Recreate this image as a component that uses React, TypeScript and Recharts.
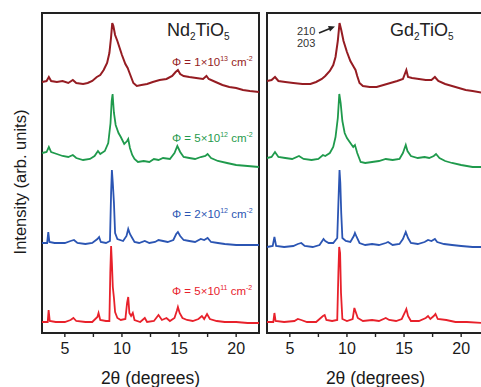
import React from "react";
import {
  LineChart,
  Line,
  XAxis,
  YAxis,
  ReferenceArea,
  Customized,
} from "recharts";

// x = 2θ (degrees), y = intensity (arb. units, stacked with offsets)
const TICKS = [5, 7.5, 10, 12.5, 15, 17.5, 20];
const DOMAIN_X: [number, number] = [3, 22];
const DOMAIN_Y: [number, number] = [0, 320];

const FLUENCES = ["5×10", "2×10", "5×10", "1×10"];
const FLUENCE_EXP = ["11", "12", "12", "13"];

const ndTop: [number, number][] = [
  [3.0, 251], [3.4, 252], [3.6, 256], [3.8, 252], [4.3, 251], [4.8, 252], [5.3, 250], [5.7, 253],
  [6.0, 250], [6.6, 249], [7.0, 250], [7.4, 252], [7.8, 256], [8.1, 258], [8.4, 263], [8.7, 270],
  [8.9, 280], [9.05, 296], [9.15, 310], [9.25, 307], [9.4, 298], [9.6, 292], [9.8, 285], [10.0, 278],
  [10.3, 269], [10.5, 265], [10.6, 262], [10.8, 256], [11.0, 250], [11.3, 247], [11.7, 248], [12.2, 249],
  [12.7, 251], [13.3, 253], [13.9, 254], [14.4, 257], [14.7, 261], [14.9, 263], [15.1, 259], [15.4, 257],
  [15.9, 256], [16.5, 255], [17.1, 254], [17.4, 257], [17.6, 254], [18.2, 251], [18.8, 248], [19.4, 246],
  [20.0, 245], [20.6, 243], [21.2, 242], [22.0, 241],
];
const ndMid: [number, number][] = [
  [3.0, 180], [3.4, 181], [3.6, 186], [3.8, 181], [4.3, 179], [4.8, 177], [5.3, 176], [5.7, 178],
  [6.0, 175], [6.6, 173], [7.2, 174], [7.6, 177], [7.9, 182], [8.1, 179], [8.5, 182], [8.8, 190],
  [9.0, 210], [9.1, 232], [9.18, 239], [9.3, 220], [9.45, 208], [9.7, 200], [9.9, 196], [10.2, 189],
  [10.45, 192], [10.55, 194], [10.7, 185], [10.9, 178], [11.1, 174], [11.4, 171], [11.9, 172], [12.4, 171],
  [12.8, 174], [13.2, 173], [13.6, 175], [14.2, 174], [14.6, 180], [14.85, 187], [15.1, 181], [15.4, 176],
  [15.9, 175], [16.4, 174], [16.9, 176], [17.3, 177], [17.5, 179], [17.8, 175], [18.4, 172], [19.2, 170],
  [20.0, 168], [21.0, 167], [22.0, 166],
];
const ndLow: [number, number][] = [
  [3.0, 90], [3.45, 90], [3.55, 101], [3.65, 91], [4.1, 90], [5.0, 90], [5.5, 92], [5.8, 93],
  [6.1, 90], [6.8, 89], [7.4, 90], [7.85, 94], [8.0, 96], [8.15, 91], [8.6, 90], [8.95, 92],
  [9.05, 140], [9.12, 163], [9.2, 150], [9.3, 130], [9.4, 100], [9.6, 94], [10.1, 92], [10.4, 97],
  [10.55, 104], [10.7, 99], [10.9, 95], [11.1, 91], [11.5, 90], [12.0, 92], [12.4, 90], [12.9, 91],
  [13.2, 93], [13.6, 92], [14.0, 91], [14.5, 93], [14.75, 99], [14.9, 101], [15.1, 97], [15.4, 93],
  [15.9, 92], [16.4, 91], [16.9, 94], [17.2, 93], [17.5, 95], [17.8, 91], [18.4, 90], [19.0, 89],
  [20.0, 88], [21.0, 88], [22.0, 88],
];
const ndBase: [number, number][] = [
  [3.0, 11], [3.5, 11], [3.58, 23], [3.68, 12], [4.2, 11], [5.0, 11], [5.5, 13], [5.75, 15],
  [6.0, 12], [6.8, 11], [7.4, 11], [7.85, 16], [7.95, 20], [8.1, 13], [8.6, 12], [8.9, 12],
  [8.98, 60], [9.05, 87], [9.12, 70], [9.2, 46], [9.3, 35], [9.4, 21], [9.6, 15], [9.9, 13],
  [10.3, 14], [10.45, 30], [10.55, 36], [10.65, 20], [10.8, 17], [10.95, 20], [11.1, 13], [11.6, 11],
  [12.0, 15], [12.2, 11], [12.8, 12], [13.2, 18], [13.5, 13], [13.9, 15], [14.2, 12], [14.6, 15],
  [14.8, 22], [14.9, 26], [15.05, 20], [15.3, 15], [15.7, 13], [16.2, 12], [16.7, 14], [17.0, 17],
  [17.2, 14], [17.45, 19], [17.7, 14], [18.3, 12], [19.0, 11], [20.0, 11], [21.0, 10], [22.0, 10],
];

const gdTop: [number, number][] = [
  [3.0, 252], [3.4, 253], [3.7, 256], [4.0, 252], [4.6, 251], [5.3, 250], [6.1, 249], [6.8, 249],
  [7.3, 251], [7.8, 254], [8.1, 257], [8.5, 262], [8.8, 268], [9.0, 276], [9.2, 292], [9.35, 310],
  [9.5, 303], [9.7, 292], [10.0, 281], [10.3, 272], [10.6, 266], [10.75, 263], [10.9, 257], [11.1, 250],
  [11.4, 247], [12.0, 246], [12.6, 246], [13.2, 248], [13.8, 250], [14.4, 252], [14.9, 254], [15.1, 260],
  [15.2, 263], [15.35, 256], [15.7, 255], [16.3, 254], [16.9, 253], [17.4, 253], [17.7, 256], [18.0, 252],
  [18.6, 249], [19.2, 247], [19.8, 245], [20.4, 243], [21.0, 242], [22.0, 240],
];
const gdMid: [number, number][] = [
  [3.0, 175], [3.4, 176], [3.7, 181], [4.0, 176], [4.6, 175], [5.2, 174], [5.8, 177], [6.2, 174],
  [6.9, 173], [7.5, 174], [7.9, 178], [8.1, 177], [8.5, 180], [8.8, 186], [9.0, 196], [9.2, 215],
  [9.33, 239], [9.45, 230], [9.6, 212], [9.8, 200], [10.0, 195], [10.3, 190], [10.55, 186], [10.7, 188],
  [10.9, 180], [11.2, 171], [11.6, 170], [12.2, 171], [12.8, 172], [13.4, 174], [14.0, 173], [14.6, 174],
  [14.9, 180], [15.15, 188], [15.3, 182], [15.6, 177], [16.2, 175], [16.8, 176], [17.2, 175], [17.6, 177],
  [17.8, 179], [18.1, 175], [18.6, 172], [19.2, 170], [20.0, 168], [21.0, 166], [22.0, 166],
];
const gdLow: [number, number][] = [
  [3.0, 86], [3.5, 87], [3.65, 96], [3.8, 87], [4.5, 86], [5.3, 87], [5.7, 89], [6.0, 90],
  [6.3, 87], [7.0, 86], [7.6, 88], [7.95, 94], [8.1, 92], [8.4, 90], [8.8, 90], [9.15, 95],
  [9.28, 140], [9.35, 163], [9.42, 150], [9.5, 120], [9.6, 95], [9.9, 92], [10.3, 91], [10.6, 97],
  [10.7, 100], [10.85, 96], [11.1, 90], [11.6, 88], [12.2, 89], [12.8, 88], [13.4, 90], [13.6, 91],
  [14.0, 88], [14.6, 89], [14.9, 94], [15.15, 101], [15.35, 95], [15.6, 90], [16.2, 89], [16.8, 91],
  [17.1, 93], [17.4, 92], [17.7, 94], [17.9, 91], [18.5, 89], [19.2, 88], [20.0, 87], [21.0, 86], [22.0, 86],
];
const gdBase: [number, number][] = [
  [3.0, 11], [3.55, 11], [3.65, 20], [3.75, 12], [4.5, 11], [5.4, 12], [5.7, 14], [6.0, 13],
  [6.5, 11], [7.3, 11], [7.9, 17], [8.05, 18], [8.2, 13], [8.7, 12], [9.15, 13], [9.25, 60],
  [9.32, 86], [9.4, 80], [9.48, 40], [9.6, 14], [10.0, 12], [10.5, 14], [10.65, 25], [10.8, 20],
  [10.95, 15], [11.4, 12], [12.2, 13], [12.8, 12], [13.4, 15], [13.7, 13], [14.3, 12], [14.8, 14],
  [15.05, 20], [15.2, 24], [15.35, 17], [15.6, 12], [16.3, 12], [16.9, 15], [17.1, 17], [17.3, 14],
  [17.6, 17], [17.75, 19], [17.95, 14], [18.7, 13], [19.5, 11], [20.5, 11], [22.0, 10],
];

const COLORS = ["#e8212b", "#2b55b3", "#1f9a4c", "#951c22"]; // bottom -> top
const FONT = "'Liberation Sans', Arial, sans-serif";

const toPts = (a: [number, number][]) => a.map(([x, y]) => ({ x, y }));

function Compound({ x, y, base }: { x: number; y: number; base: string }) {
  return (
    <text x={x} y={y} fontSize={18} fill="#222" fontFamily={FONT}>
      {base}
      <tspan fontSize={10} dy={4}>2</tspan>
      <tspan dy={-4}>TiO</tspan>
      <tspan fontSize={10} dy={4}>5</tspan>
    </text>
  );
}

function NdNotes() {
  const ys = [295, 218, 142, 66];
  return (
    <g fontFamily={FONT}>
      <text
        x={20}
        y={182}
        transform="rotate(-90 20 182)"
        textAnchor="middle"
        dominantBaseline="central"
        fontSize={16.5}
        fill="#1a1a1a"
      >
        Intensity (arb. units)
      </text>
      <Compound x={167} y={36} base="Nd" />
      {FLUENCES.map((f, i) => (
        <text key={i} x={172} y={ys[i]} fontSize={11.5} fill={COLORS[i]}>
          {"Φ = " + f}
          <tspan fontSize={7} dy={-5}>{FLUENCE_EXP[i]}</tspan>
          <tspan dy={5}> cm</tspan>
          <tspan fontSize={7} dy={-5}>-2</tspan>
        </text>
      ))}
    </g>
  );
}

function GdNotes() {
  return (
    <g fontFamily={FONT}>
      <Compound x={150} y={36} base="Gd" />
      <text x={57} y={35} fontSize={11} fill="#333">210</text>
      <text x={57} y={47} fontSize={11} fill="#333">203</text>
      <line x1={79} y1={33} x2={90} y2={28.5} stroke="#222" strokeWidth={1.6} />
      <polygon points="95,26.5 88,26 90,31.5" fill="#222" />
    </g>
  );
}

function Panel({
  series,
  notes,
  width,
  left,
}: {
  series: [number, number][][];
  notes: React.ComponentType;
  width: number;
  left: number;
}) {
  return (
    <LineChart
      width={width}
      height={387}
      margin={{ top: 13, right: 11, left, bottom: 0 }}
    >
      <XAxis
        dataKey="x"
        type="number"
        domain={DOMAIN_X}
        ticks={TICKS}
        allowDataOverflow
        axisLine={false}
        tickSize={4}
        tickMargin={6}
        tickLine={{ stroke: "#222", strokeWidth: 1.4 }}
        tickFormatter={(v: number) => (Number.isInteger(v) ? String(v) : "")}
        tick={{ fontSize: 16, fill: "#1a1a1a", fontFamily: FONT }}
        height={54}
        label={{
          value: "2θ (degrees)",
          position: "insideBottom",
          offset: 3,
          fontSize: 17.5,
          fill: "#1a1a1a",
          fontFamily: FONT,
        }}
      />
      <YAxis hide type="number" domain={DOMAIN_Y} allowDataOverflow />
      {series.map((s, i) => (
        <Line
          key={i}
          data={toPts(s)}
          dataKey="y"
          type="linear"
          stroke={COLORS[i]}
          strokeWidth={i === 3 ? 2 : 1.8}
          dot={false}
          isAnimationActive={false}
        />
      ))}
      <ReferenceArea
        x1={DOMAIN_X[0]}
        x2={DOMAIN_X[1]}
        y1={DOMAIN_Y[0]}
        y2={DOMAIN_Y[1]}
        fill="none"
        fillOpacity={0}
        stroke="#222"
        strokeWidth={2}
      />
      <Customized component={notes} />
    </LineChart>
  );
}

export default function App() {
  return (
    <div
      style={{
        position: "absolute",
        left: 0,
        top: 0,
        width: 481,
        height: 387,
        overflow: "hidden",
        background: "#fff",
      }}
    >
      <div style={{ position: "absolute", left: 0, top: 0 }}>
        <Panel series={[ndBase, ndLow, ndMid, ndTop]} notes={NdNotes} width={270} left={42} />
      </div>
      <div style={{ position: "absolute", left: 240, top: 0 }}>
        <Panel series={[gdBase, gdLow, gdMid, gdTop]} notes={GdNotes} width={255} left={27} />
      </div>
    </div>
  );
}
